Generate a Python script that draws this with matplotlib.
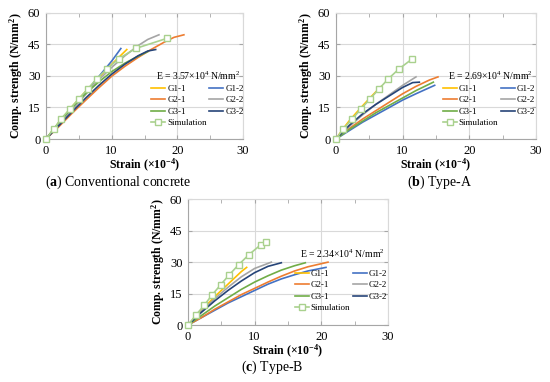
import matplotlib
matplotlib.use("Agg")
import matplotlib.pyplot as plt
from matplotlib.ticker import MultipleLocator

plt.rcParams['font.family'] = ['Liberation Serif', 'DejaVu Serif']
plt.rcParams['mathtext.fontset'] = 'custom'
plt.rcParams['mathtext.rm'] = 'Liberation Serif'
plt.rcParams['mathtext.bf'] = 'Liberation Serif:bold'
plt.rcParams['mathtext.default'] = 'regular'

# ---------------- data ----------------
SERIES = ["G1-1", "G1-2", "G2-1", "G2-2", "G3-1", "G3-2"]
E_LABELS = ["E = 3.57×10$^{4}$ N/mm$^{2}$", "E = 2.69×10$^{4}$ N/mm$^{2}$", "E = 2.34×10$^{4}$ N/mm$^{2}$"]
CAPTIONS = ["Conventional concrete", "Type-A", "Type-B"]
CAPTION_TAGS = ["a", "b", "c"]

# Panel (a) conventional concrete
A_G11_X = [0, 2, 4, 6, 8, 10, 12.3]
A_G11_Y = [0, 8, 15.5, 22.5, 29, 35.5, 42.5]
A_G12_X = [0, 2, 4, 6, 8, 10, 11.4]
A_G12_Y = [0, 7.5, 15, 22, 29.5, 37, 43]
A_G21_X = [0, 2, 4, 6, 8, 10, 12, 14, 16, 18, 19.5, 21]
A_G21_Y = [0, 6, 12.3, 18.3, 24.2, 29.8, 34.5, 38.7, 42.5, 46, 48.3, 49.5]
A_G22_X = [0, 2, 4, 6, 8, 10, 12, 14, 15.5, 17.2]
A_G22_Y = [0, 7, 14, 21, 28, 34, 39.5, 44.3, 47.3, 49.5]
A_G31_X = [0, 2, 4, 6, 8, 10, 12, 14, 15.5]
A_G31_Y = [0, 8, 15, 21.5, 27, 32, 36, 39.3, 41.5]
A_G32_X = [0, 2, 4, 6, 8, 10, 12, 14, 15.5, 16.7]
A_G32_Y = [0, 6.5, 13, 19.3, 25.3, 30.8, 35.5, 39.5, 41.8, 42.5]
A_SIM_X = [0, 1.2, 2.3, 3.65, 5.0, 6.4, 7.75, 9.3, 11.1, 13.65, 18.4]
A_SIM_Y = [0, 4.8, 9.6, 14.3, 19.1, 23.9, 28.7, 33.4, 38.2, 43.0, 47.8]

# Panel (b) Type-A
B_G11_X = [0, 1, 2, 3, 4, 5, 6, 6.8]
B_G11_Y = [0, 4.6, 8.7, 12.3, 15.8, 19.2, 22.5, 25]
B_G12_X = [0, 2, 4, 6, 8, 10, 12, 14.8]
B_G12_Y = [0, 4, 8, 11.5, 15, 18.5, 21.5, 25.5]
B_G21_X = [0, 2, 4, 6, 8, 10, 12, 14, 15.3]
B_G21_Y = [0, 5, 9.5, 13.5, 17.5, 21.5, 25, 28, 29.5]
B_G22_X = [0, 2, 4, 6, 8, 10, 12]
B_G22_Y = [0, 6, 11.5, 16.5, 21, 25.5, 29.5]
B_G31_X = [0, 2, 4, 6, 8, 10, 12, 14.6]
B_G31_Y = [0, 4.5, 8.5, 12.5, 16, 19.5, 23, 27]
B_G32_X = [0, 2, 4, 6, 8, 10, 11.5, 12.5]
B_G32_Y = [0, 6.5, 12, 16.5, 20.5, 24.5, 26.8, 27]
B_SIM_X = [0, 1.1, 2.45, 3.75, 5.1, 6.45, 7.85, 9.45, 11.45]
B_SIM_Y = [0, 4.8, 9.5, 14.3, 19.0, 23.8, 28.6, 33.3, 38.1]

# Panel (c) Type-B
C_G11_X = [0, 2, 4, 6, 8, 8.8]
C_G11_Y = [0, 7, 13.5, 19.5, 25.5, 27.5]
C_G12_X = [0, 2, 4, 6, 8, 10, 12, 14, 16, 18, 20.7]
C_G12_Y = [0, 3.5, 7, 10.5, 13.5, 16.5, 19.5, 22, 24, 25.8, 27.5]
C_G21_X = [0, 2, 4, 6, 8, 10, 12, 14, 16, 18, 21]
C_G21_Y = [0, 3.5, 7.5, 11, 14.5, 17.5, 20.5, 23.3, 25.8, 27.8, 30]
C_G22_X = [0, 2, 4, 6, 8, 10, 12.5]
C_G22_Y = [0, 6.5, 12.5, 18, 23, 27, 30]
C_G31_X = [0, 2, 4, 6, 8, 10, 12, 14, 16, 17.6]
C_G31_Y = [0, 4.5, 9, 13, 17, 20.5, 23.5, 26.2, 28.3, 29.7]
C_G32_X = [0, 2, 4, 6, 8, 10, 12, 14]
C_G32_Y = [0, 6, 11.5, 16.5, 21, 25, 28, 29.7]
C_SIM_X = [0, 1.2, 2.45, 3.6, 4.9, 6.2, 7.6, 9.15, 10.95, 11.65]
C_SIM_Y = [0, 4.8, 9.5, 14.3, 19.2, 24.0, 28.8, 33.6, 38.4, 39.5]

PANELS = [
    [(A_G11_X, A_G11_Y), (A_G12_X, A_G12_Y), (A_G21_X, A_G21_Y),
     (A_G22_X, A_G22_Y), (A_G31_X, A_G31_Y), (A_G32_X, A_G32_Y), (A_SIM_X, A_SIM_Y)],
    [(B_G11_X, B_G11_Y), (B_G12_X, B_G12_Y), (B_G21_X, B_G21_Y),
     (B_G22_X, B_G22_Y), (B_G31_X, B_G31_Y), (B_G32_X, B_G32_Y), (B_SIM_X, B_SIM_Y)],
    [(C_G11_X, C_G11_Y), (C_G12_X, C_G12_Y), (C_G21_X, C_G21_Y),
     (C_G22_X, C_G22_Y), (C_G31_X, C_G31_Y), (C_G32_X, C_G32_Y), (C_SIM_X, C_SIM_Y)],
]

COLORS = ["#FFC000", "#4472C4", "#ED7D31", "#A5A5A5", "#70AD47", "#264478"]
SIM_COLOR = "#A9D18E"

# ---------------- layout ----------------
W, H = 550, 382
fig = plt.figure(figsize=(W / 100, H / 100), dpi=100)

def rect(x0, x1, ytop, ybot):
    return [x0 / W, 1 - ybot / H, (x1 - x0) / W, (ybot - ytop) / H]

axes_rects = [rect(46, 243, 12.7, 139), rect(336, 536, 12.7, 139), rect(188, 388, 199.3, 325)]
e_pos = [(0.77, 0.50), (0.77, 0.50), (0.77, 0.565)]
leg_anchor = [(0.535, 0.43), (0.535, 0.43), (0.535, 0.44)]
cap_pos = [(118, 182), (440, 182), (272, 367)]

for i, ax_r in enumerate(axes_rects):
    ax = fig.add_axes(ax_r)
    handles = []
    for j, (xs, ys) in enumerate(PANELS[i][:6]):
        h, = ax.plot(xs, ys, color=COLORS[j], lw=1.2, label=SERIES[j], zorder=3)
        handles.append(h)
    sx, sy = PANELS[i][6]
    hs, = ax.plot(sx, sy, color=SIM_COLOR, lw=1.2, marker='s', ms=4.5,
                  mfc='white', mec=SIM_COLOR, mew=1.0, label="Simulation", zorder=4,
                  clip_on=False)
    ax.set_xlim(0, 30)
    ax.set_ylim(0, 60)
    ax.xaxis.set_major_locator(MultipleLocator(10))
    ax.xaxis.set_minor_locator(MultipleLocator(5))
    ax.yaxis.set_major_locator(MultipleLocator(15))
    ax.grid(True, which='major', color='#D9D9D9', lw=0.8, zorder=0)
    ax.set_axisbelow(True)
    for s in ['top', 'right']:
        ax.spines[s].set_color('#D9D9D9')
    for s in ['left', 'bottom']:
        ax.spines[s].set_color('#A6A6A6')
    for s in ax.spines.values():
        s.set_linewidth(0.8)
    ax.tick_params(which='both', direction='in', length=3, color='#A6A6A6',
                   top=True, right=True, labelsize=9, pad=4)
    ax.set_xlabel("Strain (×10$^{-4}$)", fontsize=8.5, fontweight='bold', labelpad=0)
    ax.set_ylabel("Comp. strength (N/mm$^{2}$)", fontsize=8.5, fontweight='bold', labelpad=2)
    ax.text(e_pos[i][0], e_pos[i][1], E_LABELS[i], transform=ax.transAxes,
            ha='center', va='center', fontsize=7)
    # column-major fill so rows read: G1-1 G1-2 / G2-1 G2-2 / G3-1 G3-2 / Simulation
    order = [handles[0], handles[2], handles[4], hs, handles[1], handles[3], handles[5]]
    ax.legend(order, [h.get_label() for h in order], ncol=2, loc='upper left',
              bbox_to_anchor=leg_anchor[i], frameon=False, fontsize=6.5,
              handlelength=1.5, handletextpad=0.25, columnspacing=0.3,
              labelspacing=0.35, borderaxespad=0, borderpad=0, markerscale=0.9)
    cx, cy = cap_pos[i]
    fig.text(cx / W, 1 - cy / H, "($\\mathbf{" + CAPTION_TAGS[i] + "}$) " + CAPTIONS[i],
             ha='center', va='center', fontsize=10)

fig.savefig("out.png", dpi=100)
